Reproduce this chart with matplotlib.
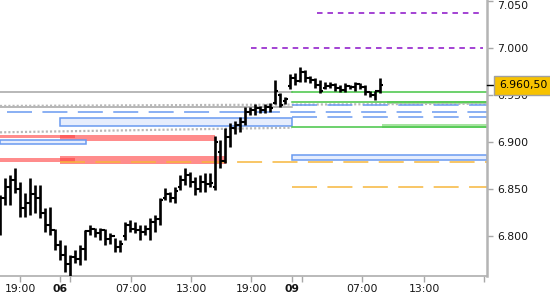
import numpy as np
import matplotlib
matplotlib.use("Agg")
import matplotlib.pyplot as plt
from matplotlib.patches import Rectangle
from matplotlib.ticker import FormatStrFormatter
from matplotlib.transforms import blended_transform_factory

plt.rcParams['lines.scale_dashes'] = False
plt.rcParams['font.family'] = ['DejaVu Sans']

# ---------------- OHLC data (30-minute bars) ----------------
highs = [6.844, 6.862, 6.865, 6.872, 6.858, 6.846, 6.862, 6.854, 6.854, 6.830,
         6.831, 6.808, 6.796, 6.790, 6.780, 6.785, 6.790, 6.806, 6.812, 6.809,
         6.809, 6.808, 6.803, 6.798, 6.796, 6.815, 6.817, 6.815, 6.812, 6.812,
         6.819, 6.822, 6.841, 6.851, 6.847, 6.852, 6.865, 6.872, 6.868, 6.863,
         6.865, 6.867, 6.867, 6.907, 6.902, 6.915, 6.920, 6.923, 6.927, 6.937,
         6.937, 6.941, 6.939, 6.941, 6.942, 6.966, 6.952, 6.948, 6.973, 6.974,
         6.980, 6.977, 6.971, 6.968, 6.966, 6.964, 6.964, 6.963, 6.961, 6.963,
         6.961, 6.964, 6.963, 6.961, 6.955, 6.955, 6.968]
lows = [6.801, 6.833, 6.833, 6.846, 6.820, 6.820, 6.822, 6.824, 6.819, 6.804,
        6.801, 6.785, 6.774, 6.762, 6.756, 6.771, 6.769, 6.774, 6.801, 6.799,
        6.796, 6.790, 6.792, 6.783, 6.783, 6.796, 6.804, 6.803, 6.796, 6.801,
        6.796, 6.804, 6.812, 6.838, 6.836, 6.835, 6.849, 6.854, 6.852, 6.844,
        6.847, 6.847, 6.852, 6.849, 6.872, 6.878, 6.895, 6.909, 6.911, 6.918,
        6.929, 6.929, 6.931, 6.931, 6.932, 6.941, 6.937, 6.941, 6.957, 6.961,
        6.964, 6.964, 6.963, 6.958, 6.952, 6.957, 6.958, 6.955, 6.953, 6.953,
        6.957, 6.955, 6.957, 6.950, 6.948, 6.945, 6.952]
opens = [6.820, 6.840, 6.852, 6.860, 6.850, 6.830, 6.835, 6.845, 6.840, 6.825,
         6.812, 6.806, 6.790, 6.780, 6.770, 6.778, 6.775, 6.786, 6.805, 6.808,
         6.803, 6.806, 6.797, 6.800, 6.788, 6.800, 6.812, 6.808, 6.806, 6.804,
         6.808, 6.815, 6.818, 6.841, 6.845, 6.840, 6.852, 6.860, 6.865, 6.858,
         6.850, 6.858, 6.855, 6.852, 6.890, 6.880, 6.905, 6.915, 6.918, 6.922,
         6.932, 6.934, 6.936, 6.934, 6.938, 6.942, 6.950, 6.944, 6.960, 6.968,
         6.965, 6.975, 6.968, 6.966, 6.961, 6.958, 6.960, 6.961, 6.958, 6.956,
         6.960, 6.959, 6.962, 6.959, 6.953, 6.950, 6.954]
closes = [6.840, 6.852, 6.860, 6.850, 6.830, 6.835, 6.845, 6.840, 6.825, 6.812,
          6.806, 6.790, 6.780, 6.770, 6.778, 6.775, 6.786, 6.805, 6.808, 6.803,
          6.806, 6.797, 6.800, 6.788, 6.792, 6.812, 6.808, 6.806, 6.804, 6.808,
          6.815, 6.818, 6.838, 6.845, 6.840, 6.848, 6.860, 6.865, 6.858, 6.850,
          6.858, 6.855, 6.857, 6.900, 6.880, 6.905, 6.915, 6.918, 6.922, 6.932,
          6.934, 6.936, 6.934, 6.938, 6.936, 6.955, 6.940, 6.946, 6.968, 6.965,
          6.975, 6.968, 6.966, 6.961, 6.955, 6.960, 6.961, 6.958, 6.956, 6.960,
          6.959, 6.962, 6.959, 6.953, 6.950, 6.954, 6.9605]
last_price = 6.9605
last_label = "6.960,50"

# ---------------- axis ticks ----------------
x_tick_pos = [4, 12, 14, 26.2, 38.2, 50.2, 58.4, 60.4, 72.4, 84.8, 96.8]
x_tick_labels = ["19:00", "06", "", "07:00", "13:00", "19:00", "09", "", "07:00", "13:00", ""]
x_bold = ["06", "09"]
y_ticks = [6.80, 6.85, 6.90, 6.95, 7.00, 7.05]

# ---------------- overlay levels: (price, x_start, x_end) ----------------
purple_dashed = [(7.0373, 63.4, 96.6), (7.0000, 50.2, 96.6)]
gray_solid = [(6.9532, 0, 58.4), (6.9380, 0, 58.4)]
gray_dotted = [((6.9386, 6.9410), 0, 97.4), ((6.9105, 6.9154), 0, 58.4)]
green_solid = [(6.9538, 58.4, 97.4), (6.9425, 58.4, 97.4), (6.9165, 58.4, 97.4)]
green_bands = [(6.9404, 6.9442, 77.4, 97.4), (6.9154, 6.9194, 76.4, 97.4)]
blue_dashed = [(6.9393, 58.4, 97.4), (6.9322, 1.4, 97.4), (6.9272, 58.4, 97.4)]
blue_boxes = [(6.9169, 6.9254, 12.0, 58.4), (6.8984, 6.9027, 0, 17.1), (6.8810, 6.8863, 58.4, 97.4)]
red_bands = [(6.9048, 6.9073, -1, 15), (6.9016, 6.9073, 12, 43), (6.8792, 6.8835, -1, 15), (6.8768, 6.8853, 12, 45.2)]
orange_dashed = [(6.8784, 12.0, 97.4), (6.8519, 58.4, 97.4)]

# ---------------- figure ----------------
fig = plt.figure(figsize=(5.5, 3.0), dpi=100)
ax = fig.add_axes([0.0, 24 / 300, 487 / 550, 276 / 300])
ax.set_xlim(0, 97.4)
ax.set_ylim(6.7574, 7.0515)

for lo, hi, x0, x1 in red_bands:
    ax.add_patch(Rectangle((x0, lo), x1 - x0, hi - lo, facecolor='#ff4040', alpha=0.6,
                           edgecolor='none', zorder=1))
for lo, hi, x0, x1 in green_bands:
    ax.add_patch(Rectangle((x0, lo), x1 - x0, hi - lo, facecolor='#a6e3a0',
                           edgecolor='none', zorder=1))
for lo, hi, x0, x1 in blue_boxes:
    ax.add_patch(Rectangle((x0, lo), x1 - x0, hi - lo, facecolor='#e6edfd',
                           edgecolor='#6a9af0', linewidth=1.1, zorder=1.5))

for y, x0, x1 in gray_solid:
    ax.plot([x0, x1], [y, y], color='#a4a4a4', lw=1.1, zorder=2)
for (y0, y1), x0, x1 in gray_dotted:
    ax.plot([x0, x1], [y0, y1], color='#b8b8b8', lw=1.6, dashes=(1.5, 1.5), zorder=2)
for y, x0, x1 in green_solid:
    ax.plot([x0, x1], [y, y], color='#45c545', lw=1.1, zorder=2)
for y, x0, x1 in blue_dashed:
    ax.plot([x0, x1], [y, y], color='#6a9af0', lw=1.1, dashes=(18, 7.5), zorder=2)
for y, x0, x1 in orange_dashed:
    ax.plot([x0, x1], [y, y], color='#f7b73c', lw=1.1, dashes=(18, 7.5), zorder=2)
for y, x0, x1 in purple_dashed:
    ax.plot([x0, x1], [y, y], color='#8a10c8', lw=1.1, dashes=(4, 3.5), zorder=2)

# OHLC bars
idx = np.arange(len(highs))
ax.vlines(idx, lows, highs, color='black', linewidth=1.9, zorder=4)
ax.hlines(opens, idx - 0.5, idx, color='black', linewidth=1.5, zorder=4)
ax.hlines(closes, idx, idx + 0.5, color='black', linewidth=1.5, zorder=4)

# axes styling
for s in ['top', 'left']:
    ax.spines[s].set_visible(False)
ax.spines['right'].set_color('#b4b4b4')
ax.spines['right'].set_linewidth(1.8)
ax.spines['bottom'].set_color('#b4b4b4')
ax.spines['bottom'].set_linewidth(1.3)

ax.yaxis.tick_right()
ax.set_yticks(y_ticks)
ax.yaxis.set_major_formatter(FormatStrFormatter('%.3f'))
ax.tick_params(axis='y', direction='out', length=4, width=1, color='#a8a8a8',
               labelsize=7.8, labelcolor='#151515', pad=3.5)
ax.set_xticks(x_tick_pos)
ax.set_xticklabels(x_tick_labels)
ax.tick_params(axis='x', direction='out', length=4, width=1, color='#a8a8a8',
               labelsize=7.8, labelcolor='#151515', pad=2)
for lab in ax.get_xticklabels():
    if lab.get_text() in x_bold:
        lab.set_fontweight('bold')
for lab in ax.get_yticklabels():
    if lab.get_text() == '7.050':
        lab.set_verticalalignment('top')

# last price marker
trans = blended_transform_factory(ax.transAxes, ax.transData)
ax.plot([1.0, 1.012], [last_price, last_price], color='black', lw=1, transform=trans,
        clip_on=False, zorder=6)
ax.text(1.0245, last_price, last_label, transform=trans, ha='left', va='center',
        fontsize=7.8, color='black', zorder=7, clip_on=False,
        bbox=dict(boxstyle='square,pad=0.42', facecolor='#f7c200', edgecolor='#a0a0a0',
                  linewidth=1))

fig.savefig('out.png', dpi=100)
